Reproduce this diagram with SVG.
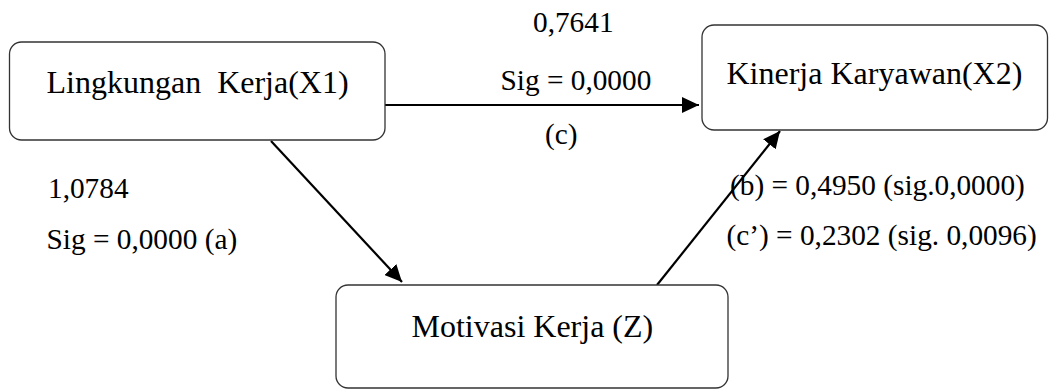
<svg xmlns="http://www.w3.org/2000/svg" width="1049" height="390" viewBox="0 0 1049 390">
<style>
.box{fill:#fff;stroke:#333;stroke-width:1.3}
.node{font-family:'Liberation Serif',serif;font-size:32px;fill:#000;white-space:pre}
.lbl{font-family:'Liberation Serif',serif;font-size:29.3px;fill:#000;white-space:pre}
.conn{stroke:#000;stroke-width:2.2;fill:none;marker-end:url(#ah)}
</style>
<defs>
<marker id="ah" markerUnits="userSpaceOnUse" markerWidth="18" markerHeight="16" viewBox="0 0 18 16" refX="17" refY="8" orient="auto">
<path d="M0,0 L17,8 L0,16 Z" fill="#000"/>
</marker>
</defs>
<rect width="1049" height="390" fill="#fff"/>
<g id="connectors">
<line class="conn" x1="385" y1="105" x2="699" y2="105"/>
<line class="conn" x1="271" y1="141" x2="402" y2="282"/>
<line class="conn" x1="657" y1="285" x2="780" y2="131"/>
</g>
<g id="node-x1">
<rect class="box" x="9.5" y="42" width="375.5" height="98" rx="12"/>
<text class="node" x="46.5" y="93">Lingkungan  Kerja(X1)</text>
</g>
<g id="node-x2">
<rect class="box" x="702" y="25" width="345.5" height="105" rx="12"/>
<text class="node" x="726.5" y="83.5">Kinerja Karyawan(X2)</text>
</g>
<g id="node-z">
<rect class="box" x="336" y="285" width="392" height="103" rx="12"/>
<text class="node" x="411.5" y="336.5">Motivasi Kerja (Z)</text>
</g>
<g id="labels">
<text class="lbl" x="533" y="31.5">0,7641</text>
<text class="lbl" x="500.5" y="89.5">Sig = 0,0000</text>
<text class="lbl" x="545" y="143.5">(c)</text>
<text class="lbl" x="48" y="197.5">1,0784</text>
<text class="lbl" x="46.5" y="248.5">Sig = 0,0000 (a)</text>
<text class="lbl" x="730" y="195">(b) = 0,4950 (sig.0,0000)</text>
<text class="lbl" x="726.5" y="245">(c’) = 0,2302 (sig. 0,0096)</text>
</g>
</svg>
